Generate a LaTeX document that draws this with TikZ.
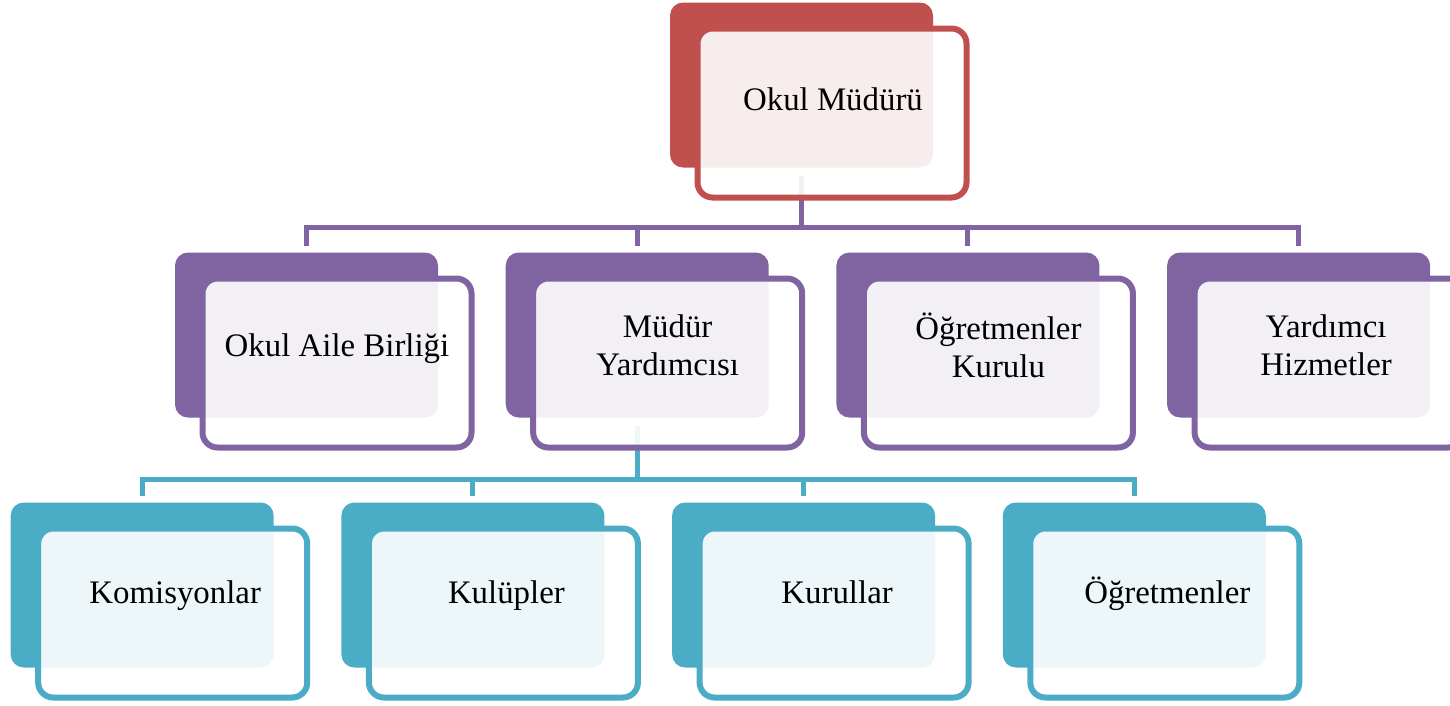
\documentclass[tikz,border=0pt]{standalone}
\usepackage{fontspec}
\setmainfont{Liberation Serif}
\usetikzlibrary{positioning}
\definecolor{kirmizi}{HTML}{C0504D}
\definecolor{mor}{HTML}{8064A2}
\definecolor{turkuaz}{HTML}{4BACC6}
\tikzset{
    arka/.style={fill=#1, rounded corners=0.26cm, minimum width=5.26cm, minimum height=3.3cm, inner sep=0pt},
    on/.style={draw=#1, line width=0.12cm, fill=white, fill opacity=0.9, rounded corners=0.3cm,
        minimum width=5.38cm, minimum height=3.38cm, inner sep=0pt},
    yazi/.style={align=center, font=\fontsize{18.7}{21.6}\selectfont},
    tek/.style={yazi, text height=0.7em, text depth=0.2em},
    bag/.style={draw=#1, line width=0.1cm, shorten <=0.16cm, shorten >=0.12cm}
}

\begin{document}
\begin{tikzpicture}
    \clip (0,0) rectangle (29,-14.1);
    \node[arka=kirmizi] (mudur) at (16.03,-1.7) {};
    \node[arka=mor] (aile) at ([shift={(-9.9,-5)}]mudur) {};
    \node[arka=mor, right=1.34cm of aile] (yardimci) {};
    \node[arka=mor, right=1.34cm of yardimci] (kurul) {};
    \node[arka=mor, right=1.34cm of kurul] (hizmet) {};
    \node[arka=turkuaz] (komisyon) at ([shift={(-9.9,-5)}]yardimci) {};
    \node[arka=turkuaz, right=1.34cm of komisyon] (kulup) {};
    \node[arka=turkuaz, right=1.34cm of kulup] (kurullar) {};
    \node[arka=turkuaz, right=1.34cm of kurullar] (ogretmen) {};
    % baglantilar
    \draw[bag=mor] (mudur.south) -- ++(0,-1.2) -| (aile.north);
    \draw[bag=mor] (mudur.south) -- ++(0,-1.2) -| (yardimci.north);
    \draw[bag=mor] (mudur.south) -- ++(0,-1.2) -| (kurul.north);
    \draw[bag=mor] (mudur.south) -- ++(0,-1.2) -| (hizmet.north);
    \draw[bag=turkuaz] (yardimci.south) -- ++(0,-1.24) -| (komisyon.north);
    \draw[bag=turkuaz] (yardimci.south) -- ++(0,-1.24) -| (kulup.north);
    \draw[bag=turkuaz] (yardimci.south) -- ++(0,-1.24) -| (kurullar.north);
    \draw[bag=turkuaz] (yardimci.south) -- ++(0,-1.24) -| (ogretmen.north);
    % on kutular
    \node[on=kirmizi] (mudur-on) at ([shift={(0.61,-0.56)}]mudur) {};
    \node[on=mor] (aile-on) at ([shift={(0.61,-0.56)}]aile) {};
    \node[on=mor] (yardimci-on) at ([shift={(0.61,-0.56)}]yardimci) {};
    \node[on=mor] (kurul-on) at ([shift={(0.61,-0.56)}]kurul) {};
    \node[on=mor] (hizmet-on) at ([shift={(0.61,-0.56)}]hizmet) {};
    \node[on=turkuaz] (komisyon-on) at ([shift={(0.61,-0.56)}]komisyon) {};
    \node[on=turkuaz] (kulup-on) at ([shift={(0.61,-0.56)}]kulup) {};
    \node[on=turkuaz] (kurullar-on) at ([shift={(0.61,-0.56)}]kurullar) {};
    \node[on=turkuaz] (ogretmen-on) at ([shift={(0.61,-0.56)}]ogretmen) {};
    \node[tek] (mudur-y) at ([shift={(0.02,0.14)}]mudur-on) {Okul Müdürü};
    \node[tek] (aile-y) at ([yshift=0.22cm]aile-on) {Okul Aile Birliği};
    \node[yazi] (yardimci-y) at ([yshift=0.36cm]yardimci-on) {Müdür\\Yardımcısı};
    \node[yazi] (kurul-y) at ([yshift=0.36cm]kurul-on) {Öğretmenler\\Kurulu};
    \node[yazi] (hizmet-y) at ([shift={(-0.06,0.36)}]hizmet-on) {Yardımcı\\Hizmetler};
    \node[tek] (komisyon-y) at ([shift={(0.05,0.27)}]komisyon-on) {Komisyonlar};
    \node[tek] (kulup-y) at ([shift={(0.06,0.27)}]kulup-on) {Kulüpler};
    \node[tek] (kurullar-y) at ([shift={(0.06,0.27)}]kurullar-on) {Kurullar};
    \node[tek] (ogretmen-y) at ([shift={(0.05,0.27)}]ogretmen-on) {Öğretmenler};
\end{tikzpicture}
\end{document}
